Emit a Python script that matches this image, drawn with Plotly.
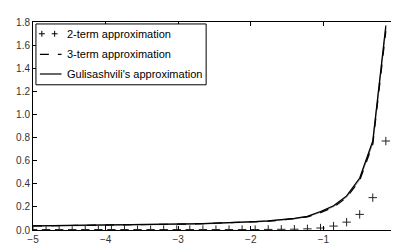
import plotly.graph_objects as go

x_vals = [-5.00, -4.82, -4.64, -4.46, -4.28, -4.10, -3.92, -3.74, -3.56, -3.38,
          -3.20, -3.02, -2.84, -2.66, -2.48, -2.30, -2.12, -1.94, -1.76, -1.58,
          -1.40, -1.22, -1.04, -0.86, -0.68, -0.50, -0.32, -0.14]

two_term = [0.004, 0.004, 0.004, 0.004, 0.004, 0.004, 0.004, 0.004, 0.004, 0.004,
            0.004, 0.004, 0.004, 0.004, 0.004, 0.004, 0.004, 0.004, 0.005, 0.006,
            0.007, 0.010, 0.017, 0.034, 0.068, 0.135, 0.28, 0.77]

three_term = [0.035, 0.036, 0.037, 0.038, 0.039, 0.040, 0.041, 0.042, 0.044, 0.046,
              0.048, 0.050, 0.052, 0.055, 0.058, 0.061, 0.065, 0.070, 0.076, 0.085,
              0.096, 0.113, 0.150, 0.198, 0.280, 0.430, 0.740, 1.72]

reference_vol = [0.035, 0.036, 0.037, 0.038, 0.039, 0.040, 0.041, 0.042, 0.044, 0.046,
                 0.048, 0.050, 0.052, 0.055, 0.058, 0.062, 0.066, 0.071, 0.077, 0.086,
                 0.098, 0.116, 0.155, 0.204, 0.288, 0.440, 0.755, 1.75]

gulisashvili = [0.036, 0.037, 0.038, 0.039, 0.040, 0.041, 0.042, 0.043, 0.045, 0.047,
                0.049, 0.051, 0.053, 0.056, 0.059, 0.063, 0.067, 0.072, 0.079, 0.088,
                0.100, 0.118, 0.160, 0.210, 0.295, 0.450, 0.770, 1.77]

series_names = ["2-term approximation", "3-term approximation", "Gulisashvili's approximation"]

x_ticks = [-5, -4, -3, -2, -1, 0]
x_tick_labels = ["\u22125", "\u22124", "\u22123", "\u22122", "\u22121", "0"]
y_ticks = [0.0, 0.2, 0.4, 0.6, 0.8, 1.0, 1.2, 1.4, 1.6, 1.8]
y_tick_labels = ["0.0", "0.2", "0.4", "0.6", "0.8", "1.0", "1.2", "1.4", "1.6", "1.8"]

W, H = 399, 245
ML, MR, MT, MB = 22, 8, 13, 20
PW, PH = W - ML - MR, H - MT - MB


def px(xp):
    return (xp - ML) / PW


def py(yp):
    return 1 - (yp - MT) / PH


fig = go.Figure()
fig.add_trace(go.Scatter(x=x_vals, y=two_term, mode="markers", name=series_names[0],
                         showlegend=False,
                         marker=dict(symbol="cross-thin", size=6, color="black",
                                     line=dict(color="#222222", width=1))))
fig.add_trace(go.Scatter(x=x_vals, y=reference_vol, mode="lines", showlegend=False,
                         line=dict(color="#999999", width=1.5)))
fig.add_trace(go.Scatter(x=x_vals, y=three_term, mode="lines", name=series_names[1],
                         showlegend=False,
                         line=dict(color="black", width=1.2, dash="dash")))
fig.add_trace(go.Scatter(x=x_vals, y=gulisashvili, mode="lines", name=series_names[2],
                         showlegend=False,
                         line=dict(color="black", width=1.2)))

axis_common = dict(showline=True, linecolor="black", linewidth=1, mirror="ticks",
                   ticks="inside", ticklen=4, tickcolor="black", showgrid=False,
                   zeroline=False,
                   tickfont=dict(family="Liberation Sans", size=10, color="#333333"))

fig.update_xaxes(range=[-5, 0], tickvals=x_ticks, ticktext=x_tick_labels, **axis_common)
fig.update_yaxes(range=[0, 1.8], tickvals=y_ticks, ticktext=y_tick_labels, **axis_common)

# hand-drawn legend (matplotlib style)
shapes = [dict(type="rect", xref="paper", yref="paper",
               x0=px(25), x1=px(198), y0=py(77), y1=py(15),
               line=dict(color="black", width=1), fillcolor="white", layer="above")]
annotations = []
rows = [25, 46, 66]
for xm in (31, 44):
    shapes.append(dict(type="line", xref="paper", yref="paper",
                       x0=px(xm - 3), x1=px(xm + 3), y0=py(rows[0]), y1=py(rows[0]),
                       line=dict(color="black", width=1), layer="above"))
    shapes.append(dict(type="line", xref="paper", yref="paper",
                       x0=px(xm), x1=px(xm), y0=py(rows[0] - 3), y1=py(rows[0] + 3),
                       line=dict(color="black", width=1), layer="above"))
shapes.append(dict(type="line", xref="paper", yref="paper",
                   x0=px(29), x1=px(51), y0=py(rows[1]), y1=py(rows[1]),
                   line=dict(color="black", width=1.2, dash="dash"), layer="above"))
shapes.append(dict(type="line", xref="paper", yref="paper",
                   x0=px(29), x1=px(51), y0=py(rows[2]), y1=py(rows[2]),
                   line=dict(color="black", width=1.2), layer="above"))
for name, r in zip(series_names, rows):
    annotations.append(dict(text=name, xref="paper", yref="paper", x=px(56), y=py(r),
                            xanchor="left", yanchor="middle", showarrow=False,
                            borderpad=0,
                            font=dict(family="Liberation Sans", size=11, color="black")))

fig.update_layout(
    width=W, height=H,
    margin=dict(l=ML, r=MR, t=MT, b=MB),
    plot_bgcolor="white", paper_bgcolor="white",
    showlegend=False,
    shapes=shapes, annotations=annotations,
)

fig.write_html("out.html")
